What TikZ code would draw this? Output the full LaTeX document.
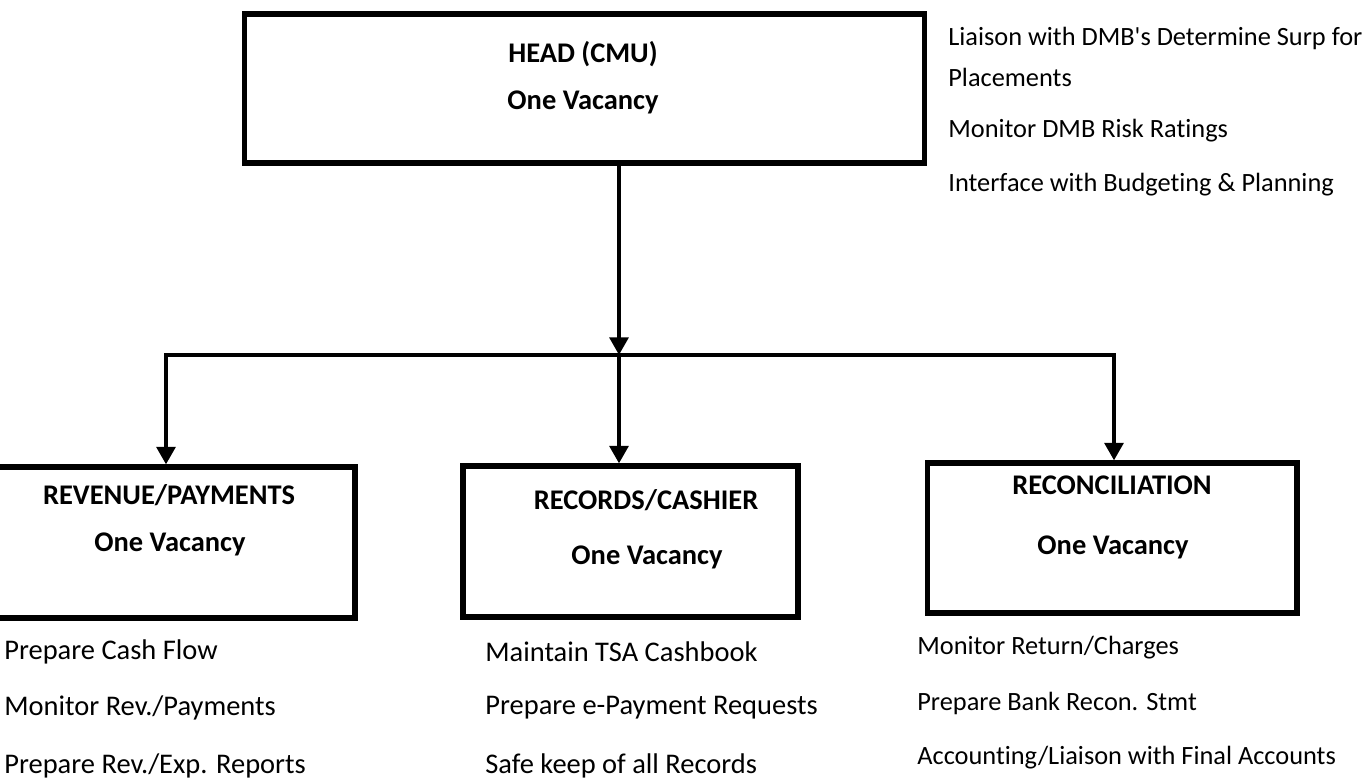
\documentclass[tikz,border=0pt]{standalone}
\usepackage{fontspec}
\setmainfont{Carlito}[Ligatures={NoCommon}]
\usetikzlibrary{arrows.meta}
\begin{document}
\begin{tikzpicture}[x=0.02cm,y=-0.02cm,
  box/.style={draw=black,line width=2.9pt,fill=none,inner sep=0pt},
  title/.style={font=\fontsize{16.2}{19}\selectfont\bfseries,inner sep=0pt},
  item/.style={font=\fontsize{16.2}{19}\selectfont,anchor=west,inner sep=0pt},
  itemsm/.style={font=\fontsize{15}{18}\selectfont,anchor=west,inner sep=0pt},
  conn/.style={line width=2.8pt},
  arr/.style={conn,-{Triangle[width=10.5pt,length=10pt]}}]
\useasboundingbox (0,0) rectangle (1369,778);
% boxes
\node[box,minimum width=13.62cm,minimum height=2.98cm] (head) at (584.5,88.5) {};
\node[box,minimum width=7.3cm,minimum height=3.02cm] (rev) at (172.5,542.5) {};
\node[box,minimum width=6.7cm,minimum height=3.02cm] (rec) at (630.5,541.5) {};
\node[box,minimum width=7.4cm,minimum height=3.0cm] (recon) at (1112,538) {};
% titles
\node[title] (h1) at (583,54) {HEAD (CMU)};
\node[title] (h2) at (583,102) {One Vacancy};
\node[title] (r1) at (169,495) {REVENUE/PAYMENTS};
\node[title] (r2) at (170,544) {One Vacancy};
\node[title] (c1) at (646,500) {RECORDS/CASHIER};
\node[title] (c2) at (647,557) {One Vacancy};
\node[title] (n1) at (1112,485) {RECONCILIATION};
\node[title] (n2) at (1113,547) {One Vacancy};
% connectors
\coordinate (j) at (619,355);
\coordinate (jl) at (166,355);
\coordinate (jr) at (1114,355);
\draw[arr] (head.south -| j) -- (j);
\draw[conn,line cap=rect] (jl) -- (jr);
\draw[arr] (jl) -- (rev.north -| jl);
\draw[arr] (j) -- (rec.north -| j);
\draw[arr] (jr) -- (recon.north -| jr);
% top right list
\node[itemsm] (t1) at (948,38) {Liaison with DMB\textquotesingle s Determine Surp for};
\node[itemsm] (t2) at (948,77) {Placements};
\node[itemsm] (t3) at (948,131) {Monitor DMB Risk Ratings};
\node[itemsm] (t4) at (948,185) {Interface with Budgeting \& Planning};
% bottom lists
\node[item] (a1) at (4,652) {Prepare Cash Flow};
\node[item] (a2) at (4,708) {Monitor Rev./Payments};
\node[item] (a3) at (4,766) {Prepare Rev./Exp. Reports};
\node[item] (b1) at (485,652) {Maintain TSA Cashbook};
\node[item] (b2) at (485,708) {Prepare e-Payment Requests};
\node[item] (b3) at (485,766) {Safe keep of all Records};
\node[itemsm] (d1) at (917,648) {Monitor Return/Charges};
\node[itemsm] (d2) at (917,703) {Prepare Bank Recon. Stmt};
\node[itemsm] (d3) at (917,758) {Accounting/Liaison with Final Accounts};
\end{tikzpicture}
\end{document}
